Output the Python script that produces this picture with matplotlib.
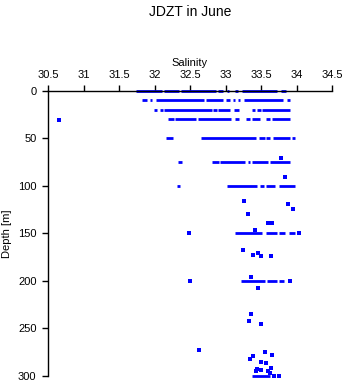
import matplotlib
matplotlib.use("Agg")
import matplotlib.pyplot as plt

plt.rcParams['font.family'] = ['Liberation Sans', 'DejaVu Sans']

# depth levels where the casts give an (almost) continuous band of samples
band_depths = [0, 10, 20, 30, 50, 75, 100, 150, 200, 300]
# salinity runs (start, end)
runs_0 = [(31.74, 32.11), (32.14, 32.35), (32.37, 32.87), (32.90, 32.97), (33.02, 33.05),
          (33.13, 33.17), (33.23, 33.72), (33.78, 33.85)]
runs_10 = [(31.82, 31.89), (31.93, 31.97), (32.02, 32.70), (32.73, 32.96), (33.01, 33.07),
           (33.10, 33.13), (33.17, 33.20), (33.26, 33.81), (33.87, 33.91)]
runs_20 = [(31.99, 32.03), (32.08, 32.12), (32.13, 32.81), (32.83, 32.88), (32.90, 33.06),
           (33.12, 33.19), (33.37, 33.42), (33.45, 33.50), (33.51, 33.91)]
runs_30 = [(32.19, 32.27), (32.29, 32.59), (32.61, 33.08), (33.14, 33.19), (33.29, 33.35),
           (33.38, 33.48), (33.57, 33.63), (33.65, 33.91)]
runs_50 = [(32.16, 32.26), (32.65, 33.43), (33.47, 33.55), (33.57, 33.63), (33.67, 33.91),
           (33.94, 33.98)]
runs_75 = [(32.33, 32.39), (32.81, 32.91), (32.92, 33.27), (33.31, 33.35), (33.37, 33.60),
           (33.63, 33.91)]
runs_100 = [(32.31, 32.36), (33.02, 33.45), (33.49, 33.54), (33.57, 33.70), (33.76, 33.98)]
runs_150 = [(33.14, 33.52), (33.57, 33.73), (33.76, 33.84), (33.89, 33.98)]
runs_200 = [(33.22, 33.56), (33.58, 33.72), (33.76, 33.82)]
runs_300 = [(33.38, 33.62)]
band_runs = [runs_0, runs_10, runs_20, runs_30, runs_50, runs_75, runs_100,
             runs_150, runs_200, runs_300]

# single samples
pt_sal = [30.65, 33.78, 33.84, 33.26, 33.88, 33.95, 33.31, 33.60, 33.66, 33.42,
          32.48, 34.03, 33.24, 33.46, 33.39, 33.50, 33.64,
          32.50, 33.91, 33.36, 33.46, 33.36, 33.33, 33.50, 32.62,
          33.55, 33.66, 33.39, 33.35, 33.50, 33.57, 33.64, 33.44, 33.50,
          33.43, 33.60, 33.63, 33.68, 33.75]
pt_depth = [30.5, 70.5, 90.5, 116, 119.5, 124.7, 130, 139.4, 139.4, 146.8,
            150, 150, 168, 170.4, 173, 174.2, 174.2,
            200, 200, 196.3, 208, 235.3, 242.7, 245.8, 273.2,
            275.3, 278.5, 279.6, 282.7, 285.6, 287, 292.2, 292.9, 293.7,
            295.4, 295.4, 297.5, 300, 300]

sal_ticks = [30.5, 31, 31.5, 32, 32.5, 33, 33.5, 34, 34.5]
depth_ticks = [0, 50, 100, 150, 200, 250, 300]

blue = '#0000ff'

fig = plt.figure(figsize=(3.46, 3.84), dpi=100)
ax = fig.add_axes([48 / 346, 1 - 375.7 / 384, 284 / 346, (375.7 - 91) / 384])

for d, runs in zip(band_depths, band_runs):
    for s0, s1 in runs:
        ax.hlines(d, s0, s1, color=blue, linewidth=2.0, clip_on=False)
ax.plot(pt_sal, pt_depth, 's', color=blue, markersize=2.4, markeredgewidth=0, clip_on=False)

ax.set_xlim(30.5, 34.5)
ax.set_ylim(300, 0)
ax.set_xticks(sal_ticks)
ax.set_xticklabels([f"{t:g}" for t in sal_ticks])
ax.set_yticks(depth_ticks)

ax.xaxis.tick_top()
ax.xaxis.set_label_position('top')
ax.spines['right'].set_visible(False)
ax.spines['bottom'].set_visible(False)
for side in ['top', 'left']:
    ax.spines[side].set_linewidth(1.0)
ax.tick_params(axis='x', direction='out', length=4.2, width=1, pad=3.5, labelsize=8)
ax.tick_params(axis='y', direction='out', length=4.3, width=1, pad=4, labelsize=8)

ax.set_xlabel('Salinity', fontsize=8, labelpad=3)
ax.set_ylabel('Depth [m]', fontsize=8, labelpad=4)
fig.text(190 / 346, 1 - 12 / 384, 'JDZT in June', ha='center', va='center', fontsize=10)

fig.savefig('out.png', dpi=100)
